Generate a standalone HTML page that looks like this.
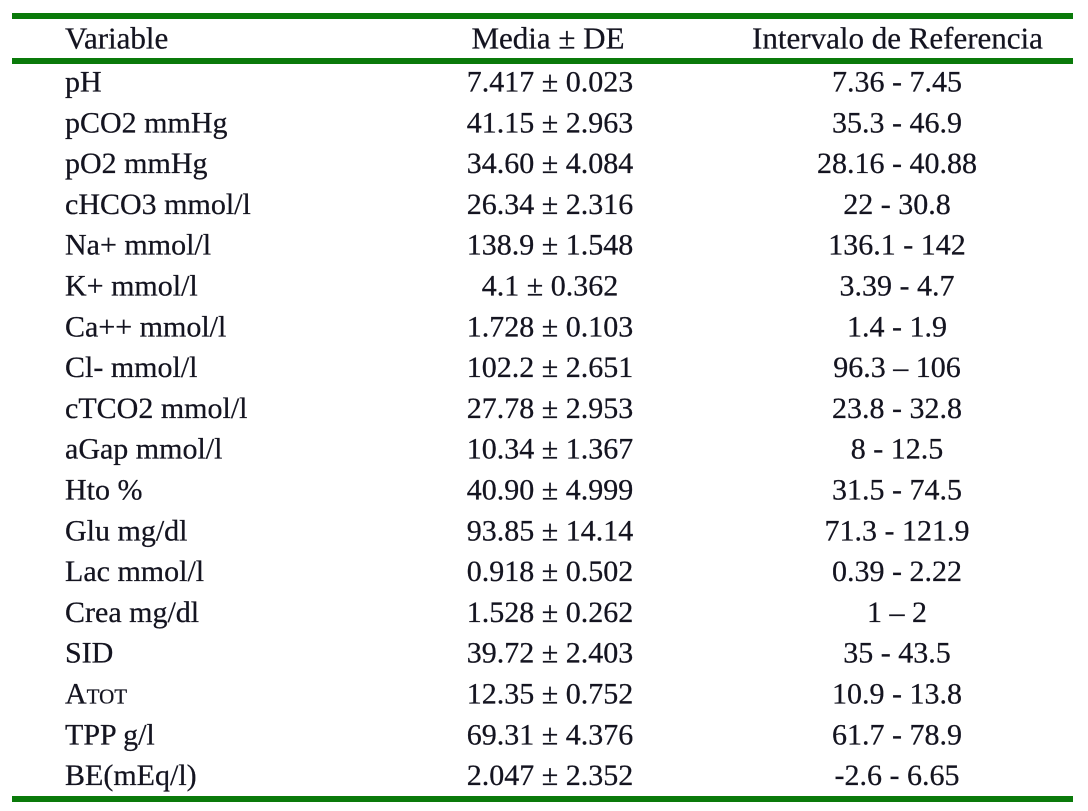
<!DOCTYPE html>
<html>
<head>
<meta charset="utf-8">
<style>
html,body{margin:0;padding:0;background:#fff;}
body{width:1088px;height:811px;overflow:hidden;}
svg{display:block;}
text{font-family:"Liberation Serif","Times New Roman",serif;font-size:30px;fill:#141420;stroke:#141420;stroke-width:0.25;}
.h{font-size:31px;}
.c{text-anchor:middle;}
</style>
</head>
<body>
<svg width="1088" height="811" viewBox="0 0 1088 811" xmlns="http://www.w3.org/2000/svg">
<rect x="0" y="0" width="1088" height="811" fill="#fff"/>
<rect x="12" y="13" width="1061" height="6" fill="#0a7a0a"/>
<rect x="12" y="58" width="1061" height="6" fill="#0a7a0a"/>
<rect x="12" y="796" width="1061" height="6" fill="#0a7a0a"/>

<text class="h" x="65" y="48.5">Variable</text>
<text class="h c" x="548" y="48.5">Media ± DE</text>
<text class="h c" x="897.5" y="48.5">Intervalo de Referencia</text>

<text x="65" y="91.5">pH</text>
<text class="c" x="550" y="91.5">7.417 ± 0.023</text>
<text class="c" x="897" y="91.5">7.36 - 7.45</text>

<text x="65" y="132.3">pCO2 mmHg</text>
<text class="c" x="550" y="132.3">41.15 ± 2.963</text>
<text class="c" x="897" y="132.3">35.3 - 46.9</text>

<text x="65" y="173.1">pO2 mmHg</text>
<text class="c" x="550" y="173.1">34.60 ± 4.084</text>
<text class="c" x="897" y="173.1">28.16 - 40.88</text>

<text x="65" y="213.9">cHCO3 mmol/l</text>
<text class="c" x="550" y="213.9">26.34 ± 2.316</text>
<text class="c" x="897" y="213.9">22 - 30.8</text>

<text x="65" y="254.7">Na+ mmol/l</text>
<text class="c" x="550" y="254.7">138.9 ± 1.548</text>
<text class="c" x="897" y="254.7">136.1 - 142</text>

<text x="65" y="295.5">K+ mmol/l</text>
<text class="c" x="550" y="295.5">4.1 ± 0.362</text>
<text class="c" x="897" y="295.5">3.39 - 4.7</text>

<text x="65" y="336.3">Ca++ mmol/l</text>
<text class="c" x="550" y="336.3">1.728 ± 0.103</text>
<text class="c" x="897" y="336.3">1.4 - 1.9</text>

<text x="65" y="377.1">Cl- mmol/l</text>
<text class="c" x="550" y="377.1">102.2 ± 2.651</text>
<text class="c" x="897" y="377.1">96.3 – 106</text>

<text x="65" y="417.9">cTCO2 mmol/l</text>
<text class="c" x="550" y="417.9">27.78 ± 2.953</text>
<text class="c" x="897" y="417.9">23.8 - 32.8</text>

<text x="65" y="458.7">aGap mmol/l</text>
<text class="c" x="550" y="458.7">10.34 ± 1.367</text>
<text class="c" x="897" y="458.7">8 - 12.5</text>

<text x="65" y="499.5">Hto %</text>
<text class="c" x="550" y="499.5">40.90 ± 4.999</text>
<text class="c" x="897" y="499.5">31.5 - 74.5</text>

<text x="65" y="540.3">Glu mg/dl</text>
<text class="c" x="550" y="540.3">93.85 ± 14.14</text>
<text class="c" x="897" y="540.3">71.3 - 121.9</text>

<text x="65" y="581.1">Lac mmol/l</text>
<text class="c" x="550" y="581.1">0.918 ± 0.502</text>
<text class="c" x="897" y="581.1">0.39 - 2.22</text>

<text x="65" y="621.9">Crea mg/dl</text>
<text class="c" x="550" y="621.9">1.528 ± 0.262</text>
<text class="c" x="897" y="621.9">1 – 2</text>

<text x="65" y="662.7">SID</text>
<text class="c" x="550" y="662.7">39.72 ± 2.403</text>
<text class="c" x="897" y="662.7">35 - 43.5</text>

<text x="65" y="703.5">A<tspan font-size="21">TOT</tspan></text>
<text class="c" x="550" y="703.5">12.35 ± 0.752</text>
<text class="c" x="897" y="703.5">10.9 - 13.8</text>

<text x="65" y="744.3">TPP g/l</text>
<text class="c" x="550" y="744.3">69.31 ± 4.376</text>
<text class="c" x="897" y="744.3">61.7 - 78.9</text>

<text x="65" y="785.1">BE(mEq/l)</text>
<text class="c" x="550" y="785.1">2.047 ± 2.352</text>
<text class="c" x="897" y="785.1">-2.6 - 6.65</text>
</svg>
</body>
</html>
